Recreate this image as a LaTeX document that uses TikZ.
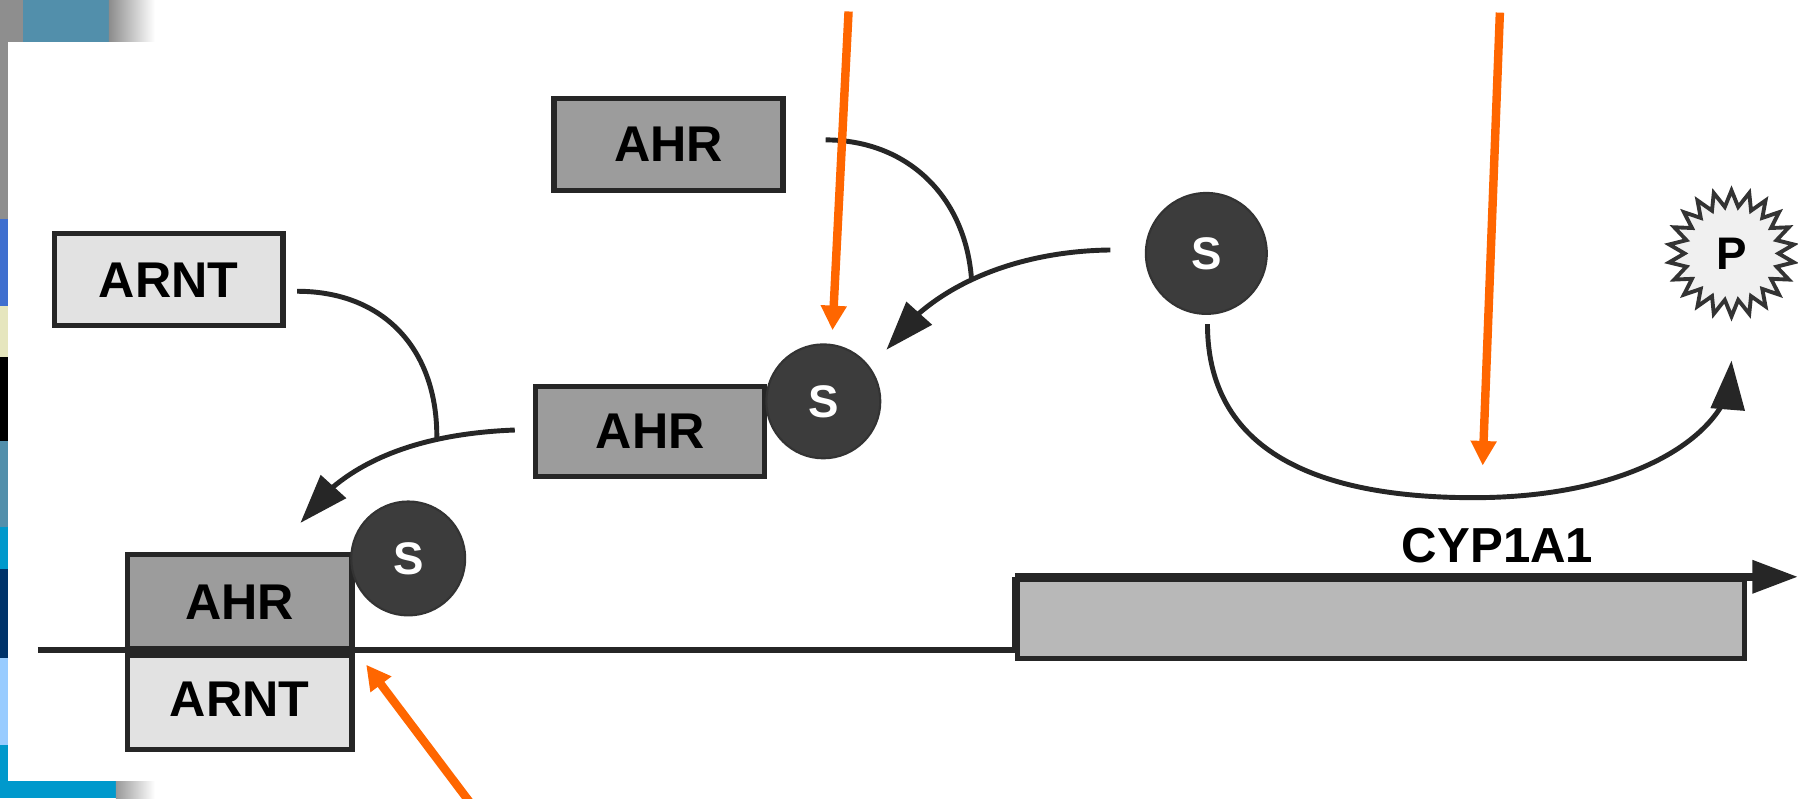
\documentclass[tikz,border=0pt]{standalone}
\usepackage{fontspec}
\setmainfont{Liberation Sans}
\usetikzlibrary{arrows.meta,bending,shapes.geometric,calc}

\definecolor{calloutorange}{HTML}{FF6600}
\definecolor{ahrgray}{HTML}{9C9C9C}
\definecolor{arntgray}{HTML}{E2E2E2}
\definecolor{ligandgray}{HTML}{3C3C3C}
\definecolor{genegray}{HTML}{B8B8B8}
\definecolor{stripgray}{HTML}{8E8E8E}
\definecolor{stripsteel}{HTML}{528FAB}
\definecolor{stripblue}{HTML}{3F6FCF}
\definecolor{stripcream}{HTML}{E6E6BE}
\definecolor{stripcyan}{HTML}{0099CC}
\definecolor{stripnavy}{HTML}{00336A}
\definecolor{stripsky}{HTML}{99CCFF}

\tikzset{
  protein/.style={draw=black!85, line width=1.5pt, minimum width=2.29cm,
    minimum height=0.92cm, inner sep=0pt,
    font=\bfseries\fontsize{14.3}{16}\selectfont},
  ahrbox/.style={protein, fill=ahrgray},
  arntbox/.style={protein, fill=arntgray},
  ligand/.style={circle, fill=ligandgray, draw=black!80, line width=0.6pt,
    minimum size=1.14cm, inner sep=0pt, text=white,
    font=\bfseries\fontsize{13}{15}\selectfont},
  product/.style={star, star points=22, star point ratio=1.34,
    minimum size=1.26cm, inner sep=0pt, fill=black!6, draw=black!80,
    line width=1.1pt, font=\bfseries\fontsize{13}{15}\selectfont},
  link/.style={line width=1.4pt, black!85},
  linkarrow/.style={link, -{Triangle[length=14pt,width=9.5pt]}},
  callout/.style={line width=2.4pt, calloutorange,
    -{Triangle[length=7pt,width=7pt]}},
  dna/.style={line width=1.7pt, black!85}
}

\begin{document}
\begin{tikzpicture}[x=0.011467cm,y=-0.011467cm]
\useasboundingbox (0,0) rectangle (1568,696);

% Slide background
\fill[white] (0,0) rectangle (1568,696);
\fill[stripgray] (0,0) rectangle (20,37);
\fill[stripsteel] (20,0) rectangle (95,37);
\shade[left color=black!45, right color=white] (95,0) rectangle (135,37);
\fill[stripgray] (0,37) rectangle (7,191);
\fill[stripblue] (0,191) rectangle (7,267);
\fill[stripcream] (0,267) rectangle (7,311);
\fill[black] (0,311) rectangle (7,385);
\fill[stripsteel] (0,385) rectangle (7,460);
\fill[stripcyan] (0,460) rectangle (7,496);
\fill[stripnavy] (0,496) rectangle (7,574);
\fill[stripsky] (0,574) rectangle (7,650);
\fill[stripcyan] (0,650) rectangle (101,696);
\shade[left color=black!40, right color=white] (101,681) rectangle (135,696);
\fill[white] (7,37) rectangle (1568,681);

% Free proteins
\node[ahrbox] (ahrfree) at (583,126) {AHR};
\node[arntbox] (arntfree) at (147,244) {ARNT};
\node[ligand, minimum size=1.21cm] (sfree) at (1052,221) {S};
\node[product] (prod) at (1510,221) {P};

% AHR with ligand
\node[ahrbox, minimum height=0.9cm] (ahrbound) at (567,376) {AHR};
\node[ligand] (sbound) at (718,350) {S};

% Gene
\node[draw=black!85, line width=1.4pt, fill=genegray, anchor=north west,
  minimum width=7.28cm, minimum height=0.79cm, inner sep=0pt] (gene) at (885,503) {};
\node[font=\bfseries\fontsize{14}{16}\selectfont] (cyp) at (1306,476) {CYP1A1};
\draw[dna] (33,567) -| (gene.north west);
\draw[dna, line width=2.2pt, -{Triangle[length=13pt,width=9pt]}] (gene.north west) -- (1568,503);

% Complex on the DNA
\node[ahrbox, minimum width=2.25cm, minimum height=0.95cm] (ahrdna) at (209,525) {AHR};
\node[arntbox, minimum width=2.25cm, minimum height=1.0cm] (arntdna) at (209,610) {ARNT};
\node[ligand] (sdna) at (356,487) {S};
\draw[dna, line width=3.6pt] (ahrdna.south west) -- (ahrdna.south east);

% Binding arrows
\coordinate (tipbound) at (773,305);
\draw[linkarrow] ($(sfree.west)+(-30,-3)$) .. controls (885,219) and (810,250)
  .. coordinate[pos=0.53] (joinahr) (tipbound);
\draw[link] ($(ahrfree.east)+(35,-4)$) .. controls (790,122) and (842,170) .. (joinahr);

\coordinate (tipdna) at (262,456);
\draw[linkarrow] ($(ahrbound.west)+(-16,-1)$) .. controls (370,378) and (300,400)
  .. coordinate[pos=0.3] (joinarnt) (tipdna);
\draw[link] ($(arntfree.east)+(10,10)$) .. controls (335,254) and (382,305) .. (joinarnt);

% Metabolism
\draw[linkarrow] ($(sfree.south)+(1,8)$) .. controls (1053,400) and (1160,434)
  .. (1285,434) .. controls (1410,434) and (1490,390) .. (1508,340)
  -- ($(prod.south)+(0,34)$);

% Callouts
\coordinate (callA) at (740,10);
\coordinate (callB) at (1308,11);
\coordinate (callC) at (410,700);
\draw[callout] (callA) -- (726,288);
\draw[callout] (callB) -- (1293,406);
\draw[callout] (callC) -- ($(ahrdna.south east)+(10,11)$);
\end{tikzpicture}
\end{document}
